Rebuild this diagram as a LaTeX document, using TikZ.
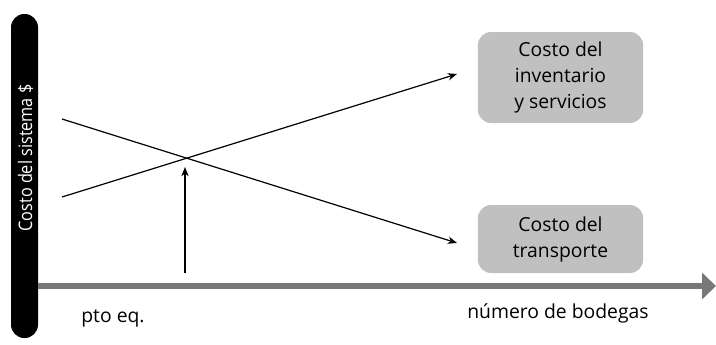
\documentclass[tikz,border=0pt]{standalone}
\usepackage{fontspec}
\setmainfont{Open Sans}
\newfontfamily\narrowsans[FakeStretch=0.87]{Open Sans}
\usepackage{tikz}
\usetikzlibrary{arrows.meta,positioning,calc}

\tikzset{
  costbox/.style={draw=none,fill={rgb,255:red,192;green,192;blue,192},rounded corners=10pt,
    minimum width=124pt,align=center,inner sep=2pt},
  curve/.style={line width=0.9pt,-{Stealth[length=7pt,width=5.5pt]}},
  axisline/.style={line width=3.8pt,color={rgb,255:red,120;green,120;blue,120},
    -{Triangle[length=10.5pt,width=19.5pt]}},
  lbl/.style={inner sep=0.75pt,align=center}
}

\begin{document}
\begin{tikzpicture}[x=0.75pt,y=0.75pt,yscale=-1,xscale=1]
\fontsize{14.5}{19.5}\selectfont
\useasboundingbox (0,0) rectangle (716,344);

% Vertical bar (axis)
\node [fill=black,rounded corners=10pt,minimum width=20.25pt,minimum height=243pt,inner sep=0pt] (bar) at (24.5,176) {};
% Text Node
\node [lbl,text=white,rotate=90,font=\narrowsans\fontsize{14}{16}\selectfont] (ylab) at (25.5,158) {Costo del sistema \$};

% Horizontal axis
\coordinate (xs) at (38,286);
\coordinate (xe) at (716,286);
\draw [axisline] (xs) -- (xe);

% Curves
\coordinate (inv0) at (62,197);
\coordinate (inv1) at (457,74);
\coordinate (tr0) at (62,119);
\coordinate (tr1) at (457,243);
\draw [curve] (inv0) -- (inv1);
\draw [curve] (tr0) -- (tr1);

% Equilibrium arrow
\coordinate (eqb) at (185,273);
\coordinate (eqt) at (185,167);
\draw [curve] (eqb) -- (eqt);

% Boxes
\node [costbox,minimum height=68.25pt] (inv) at (560.5,77.5) {Costo del\\inventario\\y servicios};
\node [costbox,minimum height=51pt] (tra) at (560.5,239) {Costo del\\transporte};

% Text Node
\node [lbl] (pto) at (113,318) {pto eq.};
% Text Node
\node [lbl] (nb) at (558,313) {número de bodegas};
\end{tikzpicture}
\end{document}
